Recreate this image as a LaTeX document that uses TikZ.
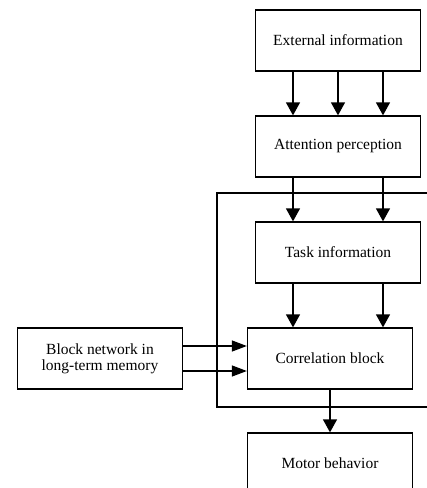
\documentclass[tikz,border=0pt]{standalone}
\usepackage{fontspec}
\setmainfont{Liberation Serif}
\usetikzlibrary{arrows.meta}
\begin{document}
\begin{tikzpicture}[x=1pt,y=-1pt,
  box/.style={draw,line width=1.3pt,minimum width=165pt,minimum height=61pt,inner sep=0pt,
    align=center,font=\fontsize{15.5}{16}\selectfont},
  varr/.style={line width=1.3pt,-{Triangle[width=14pt,length=13pt]}},
  harr/.style={line width=1.3pt,-{Triangle[width=11pt,length=15pt]}}]
\useasboundingbox (0,0) rectangle (427,488);
\clip (0,0) rectangle (427,488);
% blocks
\node[box] (ext)   at (338,40.5)  {External information};
\node[box] (att)   at (338,146.5) {Attention perception};
\node[box] (task)  at (338,252.5) {Task information};
\node[box] (corr)  at (330,358.5) {Correlation block};
\node[box] (block) at (100,358.5) {Block network in\\long-term memory};
\node[box] (motor) at (330,463.5) {Motor behavior};
% enclosing frame, open to the right
\draw[line width=1.3pt] (440,193) -- (217,193) -- (217,407) -- (440,407);
% external information -> attention perception
\foreach \dx in {-45,0,45}
  \draw[varr] ([xshift=\dx pt]ext.south) -- ([xshift=\dx pt]att.north);
% attention perception -> task information
\foreach \dx in {-45,45}
  \draw[varr] ([xshift=\dx pt]att.south) -- ([xshift=\dx pt]task.north);
% task information -> correlation block
\foreach \dx in {-45,45}
  \draw[varr] ([xshift=\dx pt]task.south) -- ([xshift=\dx pt]task.south |- corr.north);
% long-term memory -> correlation block
\draw[harr] ([yshift=12.5pt]block.east) -- ([yshift=12.5pt]corr.west);
\draw[harr] ([yshift=-12.5pt]block.east) -- ([yshift=-12.5pt]corr.west);
% correlation block -> motor behavior
\draw[varr] (corr.south) -- (motor.north);
\end{tikzpicture}
\end{document}
